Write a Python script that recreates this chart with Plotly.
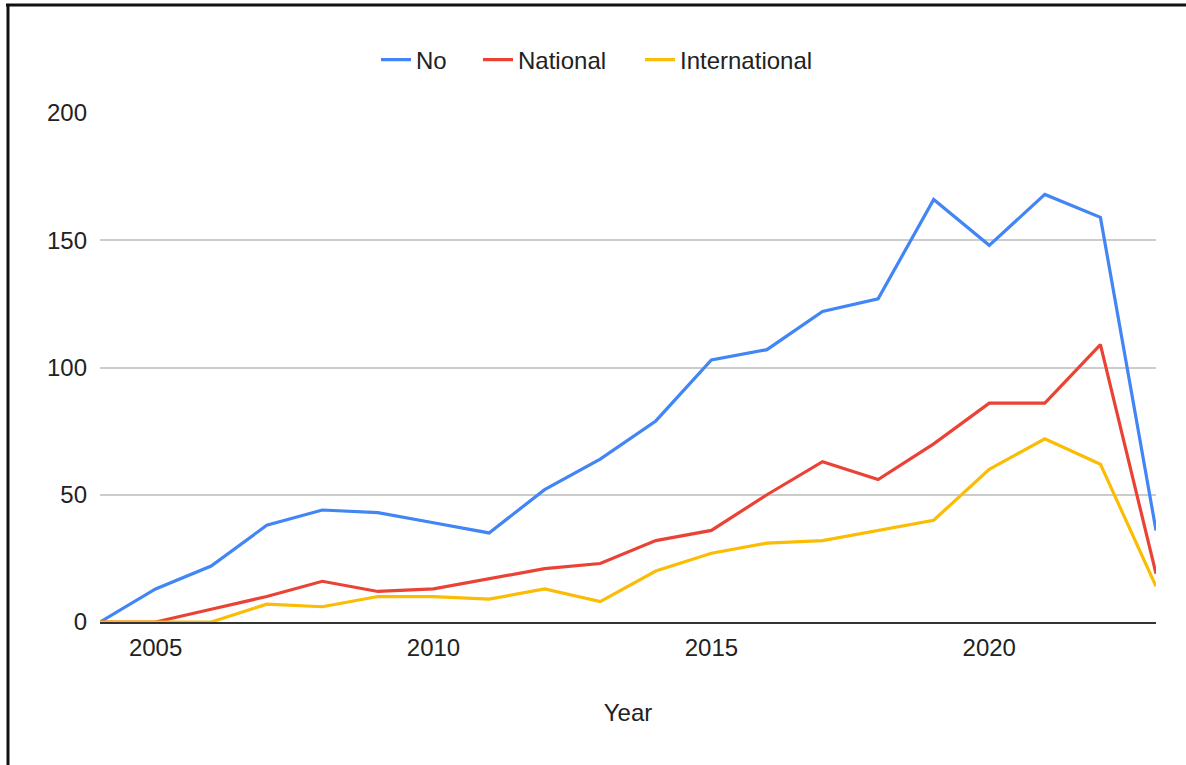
import plotly.graph_objects as go

years = list(range(2004, 2024))
no_vals = [0, 13, 22, 38, 44, 43, 39, 35, 52, 64, 79, 103, 107, 122, 127, 166, 148, 168, 159, 36]
national_vals = [0, 0, 5, 10, 16, 12, 13, 17, 21, 23, 32, 36, 50, 63, 56, 70, 86, 86, 109, 19]
international_vals = [0, 0, 0, 7, 6, 10, 10, 9, 13, 8, 20, 27, 31, 32, 36, 40, 60, 72, 62, 14]

series_names = ["No", "National", "International"]
series_colors = ["#4285F4", "#EA4335", "#FBBC04"]
series_values = [no_vals, national_vals, international_vals]

x_ticks = [2005, 2010, 2015, 2020]
y_ticks = [0, 50, 100, 150, 200]

FONT = "Liberation Sans, Arial, sans-serif"

W, H = 1186, 765
L, R, T, B = 100, 30, 113, 143
pw, ph = W - L - R, H - T - B

def px(xp):
    return (xp - L) / pw

def py(yp):
    return (H - B - yp) / ph

legend_ids = ["legend", "legend2", "legend3"]
legend_left = [376, 478, 640]

fig = go.Figure()
for name, vals, color, lid in zip(series_names, series_values, series_colors, legend_ids):
    fig.add_trace(go.Scatter(
        x=years, y=vals, name=name, mode="lines",
        line=dict(color=color, width=3.2),
        cliponaxis=False, legend=lid,
    ))

legend_cfg = {}
for lid, xl in zip(legend_ids, legend_left):
    legend_cfg[lid] = dict(
        orientation="h", x=px(xl), xanchor="left",
        y=py(60), yanchor="middle",
        font=dict(size=24, color="#222222", family=FONT),
        itemwidth=30, bgcolor="rgba(0,0,0,0)",
    )

fig.update_layout(
    width=W, height=H,
    margin=dict(l=L, r=R, t=T, b=B, pad=0),
    paper_bgcolor="white", plot_bgcolor="white",
    font=dict(family=FONT, size=24, color="#444444"),
    showlegend=True,
    xaxis=dict(
        range=[2004, 2023], tickvals=x_ticks, ticktext=[str(v) for v in x_ticks],
        showgrid=False, zeroline=False,
        showline=True, linecolor="#333333", linewidth=2,
        ticks="", ticklabelstandoff=3,
        tickfont=dict(size=24, color="#222222"),
        title=dict(text="Year", font=dict(size=24, color="#222222"), standoff=44),
        automargin=False,
    ),
    yaxis=dict(
        range=[0, 200], tickvals=y_ticks,
        showgrid=True, gridcolor="#CCCCCC", gridwidth=2,
        zeroline=False, showline=False,
        ticks="", ticklabelstandoff=12,
        tickfont=dict(size=24, color="#222222"),
        automargin=False,
    ),
    shapes=[
        dict(type="line", xref="paper", yref="paper",
             x0=px(6), x1=px(1200), y0=py(5), y1=py(5),
             line=dict(color="#111111", width=3)),
        dict(type="line", xref="paper", yref="paper",
             x0=px(8), x1=px(8), y0=py(4), y1=py(780),
             line=dict(color="#111111", width=3)),
    ],
    **legend_cfg,
)

fig.write_html("out.html")
